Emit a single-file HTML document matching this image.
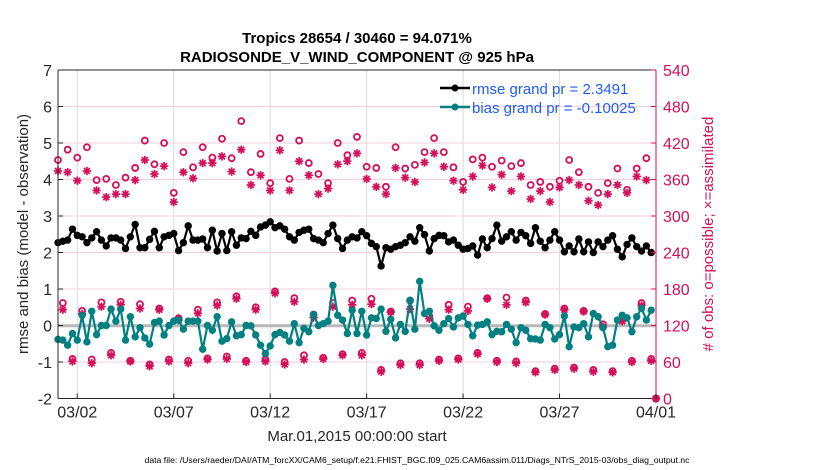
<!DOCTYPE html>
<html><head><meta charset="utf-8">
<style>
body{margin:0;background:#fff;}
svg{display:block;font-family:"Liberation Sans",sans-serif;}
</style></head>
<body>
<svg id="chart" width="830" height="470" viewBox="0 0 830 470">
<g id="grid"></g>
<line x1="58" y1="325.7" x2="656" y2="325.7" stroke="#b8b8b8" stroke-width="3"/>
<g id="counts"></g>
<g id="series"></g>
<g id="axes"></g>
<text x="357" y="43" text-anchor="middle" font-size="15" font-weight="bold">Tropics 28654 / 30460 = 94.071%</text>
<text x="357" y="62" text-anchor="middle" font-size="15" font-weight="bold">RADIOSONDE_V_WIND_COMPONENT @ 925 hPa</text>
<text transform="translate(28,234) rotate(-90)" text-anchor="middle" font-size="15" fill="#262626">rmse and bias (model - observation)</text>
<text transform="translate(713,234) rotate(-90)" text-anchor="middle" font-size="15" fill="#d40f5a"># of obs: o=possible; ×=assimilated</text>
<text x="357" y="441" text-anchor="middle" font-size="15" fill="#262626">Mar.01,2015 00:00:00 start</text>
<text x="417" y="463" text-anchor="middle" font-size="8.7" fill="#000">data file: /Users/raeder/DAI/ATM_forcXX/CAM6_setup/f.e21.FHIST_BGC.f09_025.CAM6assim.011/Diags_NTrS_2015-03/obs_diag_output.nc</text>
<g>
  <g>
    <line x1="440" y1="88" x2="470" y2="88" stroke="#000" stroke-width="2.5"/>
    <circle cx="455" cy="88" r="3.5" fill="#000"/>
    <text x="472" y="94" font-size="15" fill="#1f5cff">rmse grand pr = 2.3491</text>
  </g>
  <g>
    <line x1="440" y1="107" x2="470" y2="107" stroke="#008080" stroke-width="2.5"/>
    <circle cx="455" cy="107" r="3.5" fill="#008080"/>
    <text x="472" y="113" font-size="15" fill="#1f5cff">bias grand pr = -0.10025</text>
  </g>
</g>
</svg>
<script>
const xTickLabels = ["03/02","03/07","03/12","03/17","03/22","03/27","04/01"];
const xTickDays = [1,6,11,16,21,26,31];
const leftTicks = [-2,-1,0,1,2,3,4,5,6,7];
const rightTicks = [0,60,120,180,240,300,360,420,480,540];
const rmse = [2.27,2.31,2.34,2.64,2.47,2.43,2.27,2.40,2.57,2.34,2.18,2.40,2.40,2.34,2.11,2.43,2.77,2.13,2.13,2.36,2.58,2.13,2.43,2.47,2.52,2.05,2.27,2.73,2.34,2.34,2.37,2.13,
2.61,2.04,2.52,2.05,2.57,2.20,2.40,2.38,2.58,2.47,2.70,2.75,2.84,2.68,2.73,2.64,2.43,2.34,2.55,2.61,2.64,2.38,2.34,2.27,2.52,2.75,2.38,2.11,2.34,2.43,
2.40,2.57,2.46,2.25,2.16,1.63,2.13,2.09,2.16,2.20,2.27,2.43,2.31,2.68,2.49,2.04,2.38,2.47,2.46,2.29,2.34,2.20,2.09,2.11,2.18,1.93,2.37,2.13,2.38,2.75,2.31,
2.43,2.57,2.34,2.55,2.46,2.25,2.68,2.31,2.13,2.34,2.57,2.34,2.02,2.18,2.02,2.37,2.02,2.29,2.00,2.29,2.16,2.34,2.46,2.09,1.88,2.22,2.40,2.16,2.04,2.18,2.00];
const bias = [-0.38,-0.40,-0.54,-0.22,-0.40,0.28,-0.45,0.39,-0.25,0.0,0.0,0.45,0.12,0.45,-0.40,0.24,-0.31,-0.06,-0.34,-0.51,0.08,0.12,-0.26,0.0,0.12,0.15,-0.10,0.12,0.12,0.12,-0.65,0.0,
-0.13,0.24,-0.43,-0.36,0.10,-0.28,-0.25,0.0,-0.01,-0.26,-0.54,-0.77,-0.56,-0.25,-0.19,-0.26,-0.43,0.05,-0.47,-0.08,-0.17,0.30,0.0,0.05,0.12,1.10,0.28,0.15,-0.22,0.42,
-0.22,0.39,-0.26,0.21,0.19,0.45,-0.16,0.17,-0.34,0.03,-0.16,0.69,-0.10,1.21,0.33,0.39,-0.01,-0.13,0.05,0.19,-0.04,0.21,0.26,0.03,-0.28,0.01,0.03,0.10,-0.25,-0.16,-0.17,
0.03,-0.10,-0.47,-0.06,-0.13,-0.36,-0.37,-0.40,0.03,-0.06,-0.37,-0.25,0.26,-0.58,-0.04,-0.06,0.05,-0.31,0.33,0.24,-0.06,-0.58,-0.54,0.15,0.28,0.21,-0.17,0.24,0.47,0.15,0.42];
const possible = [392,157,409,65,396,144,413,64,359,158,361,75,351,159,363,62,379,155,424,56,385,148,420,64,338,132,405,62,380,146,413,66,
396,158,427,69,395,168,456,62,372,150,402,64,354,176,428,60,361,165,424,71,387,138,369,67,354,157,420,73,400,161,
430,75,381,164,379,47,348,143,413,58,378,161,384,58,405,135,428,64,405,154,380,66,356,151,393,75,396,165,381,62,391,
166,382,61,387,161,351,45,356,139,348,49,358,148,392,51,372,144,348,47,338,122,354,45,378,129,343,62,378,157,395,65,0];
const assimilated = [374,146,372,61,358,139,374,58,342,151,331,71,336,154,336,61,359,148,392,53,369,146,382,61,323,129,372,58,362,140,387,64,
387,153,398,65,373,164,409,60,351,146,367,61,342,173,408,56,342,159,390,64,367,133,336,65,345,151,385,71,390,154,
403,71,361,155,348,44,336,142,379,55,363,147,356,55,388,131,403,62,381,146,358,64,343,144,365,73,383,164,347,60,368,
154,341,58,365,158,328,43,341,138,323,47,347,146,359,49,351,143,325,44,318,118,336,43,351,127,338,60,365,153,359,62,0];

const NS="http://www.w3.org/2000/svg";
const L=58,R=656,T=70,B=398.5;
const xScale=d=>L+d/31*(R-L);
const yL=v=>T+(7-v)/9*(B-T);
const yR=c=>B-c/540*(B-T);
const tOf=i=>i/4;
function mk(tag,attrs,parent){const e=document.createElementNS(NS,tag);for(const k in attrs)e.setAttribute(k,attrs[k]);parent.appendChild(e);return e;}
const grid=document.getElementById('grid'),axes=document.getElementById('axes'),counts=document.getElementById('counts'),series=document.getElementById('series');

rightTicks.forEach(c=>{
  const g=mk('line',{x1:L,x2:R,y1:yR(c),y2:yR(c),stroke:'#f6cddb','stroke-width':1},grid);
  
  
});
xTickDays.forEach(d=>{
  const g=mk('line',{x1:xScale(d),x2:xScale(d),y1:T,y2:B,stroke:'#dadada','stroke-width':1},grid);
  
  
});

function star(x,y,parent){
  const g=mk('g',{stroke:'#d40f5a','stroke-width':1.7},parent);
  
  
  for(let a=0;a<4;a++){const th=a*Math.PI/4,dx=4.2*Math.cos(th),dy=4.2*Math.sin(th);
    mk('line',{x1:x-dx,y1:y-dy,x2:x+dx,y2:y+dy},g);}
}
possible.forEach((c,i)=>{
  const e=mk('circle',{cx:xScale(tOf(i)),cy:yR(c),r:3,fill:'none',stroke:'#d40f5a','stroke-width':1.8},counts);
  
  
});
assimilated.forEach((c,i)=>star(xScale(tOf(i)),yR(c),counts));

function lineSeries(arr,color,name){
  const pts=arr.map((v,i)=>xScale(tOf(i)).toFixed(1)+','+yL(v).toFixed(1)).join(' ');
  const pl=mk('polyline',{points:pts,fill:'none',stroke:color,'stroke-width':2.2,'stroke-linejoin':'round'},series);
  
  
  arr.forEach((v,i)=>{
    const c=mk('circle',{cx:xScale(tOf(i)),cy:yL(v),r:3.7,fill:color},series);
    
    
  });
}
lineSeries(rmse,'#000','rmse');
lineSeries(bias,'#008080','bias');

const box=mk('line',{x1:L,y1:T,x2:R,y2:T,stroke:'#262626','stroke-width':1},axes);


const la=mk('line',{x1:L,y1:T,x2:L,y2:B,stroke:'#262626','stroke-width':1},axes);


const ba=mk('line',{x1:L,y1:B,x2:R,y2:B,stroke:'#262626','stroke-width':1},axes);


const ra=mk('line',{x1:R,y1:T,x2:R,y2:B,stroke:'#d40f5a','stroke-width':1},axes);


leftTicks.forEach(v=>{
  mk('line',{x1:L,x2:L+5,y1:yL(v),y2:yL(v),stroke:'#262626'},axes);
  const t=mk('text',{x:L-6,y:yL(v)+6,'text-anchor':'end','font-size':16,fill:'#262626'},axes);
  t.textContent=v;
  
  
});
rightTicks.forEach(c=>{
  mk('line',{x1:R-5,x2:R,y1:yR(c),y2:yR(c),stroke:'#d40f5a'},axes);
  const t=mk('text',{x:R+7,y:yR(c)+6,'font-size':16,fill:'#d40f5a'},axes);
  t.textContent=c;
  
  
});
xTickDays.forEach((d,k)=>{
  mk('line',{x1:xScale(d),x2:xScale(d),y1:B,y2:B-5,stroke:'#262626'},axes);
  const t=mk('text',{x:xScale(d),y:B+19,'text-anchor':'middle','font-size':16,fill:'#262626'},axes);
  t.textContent=xTickLabels[k];
  
  
});
</script>
</body></html>
